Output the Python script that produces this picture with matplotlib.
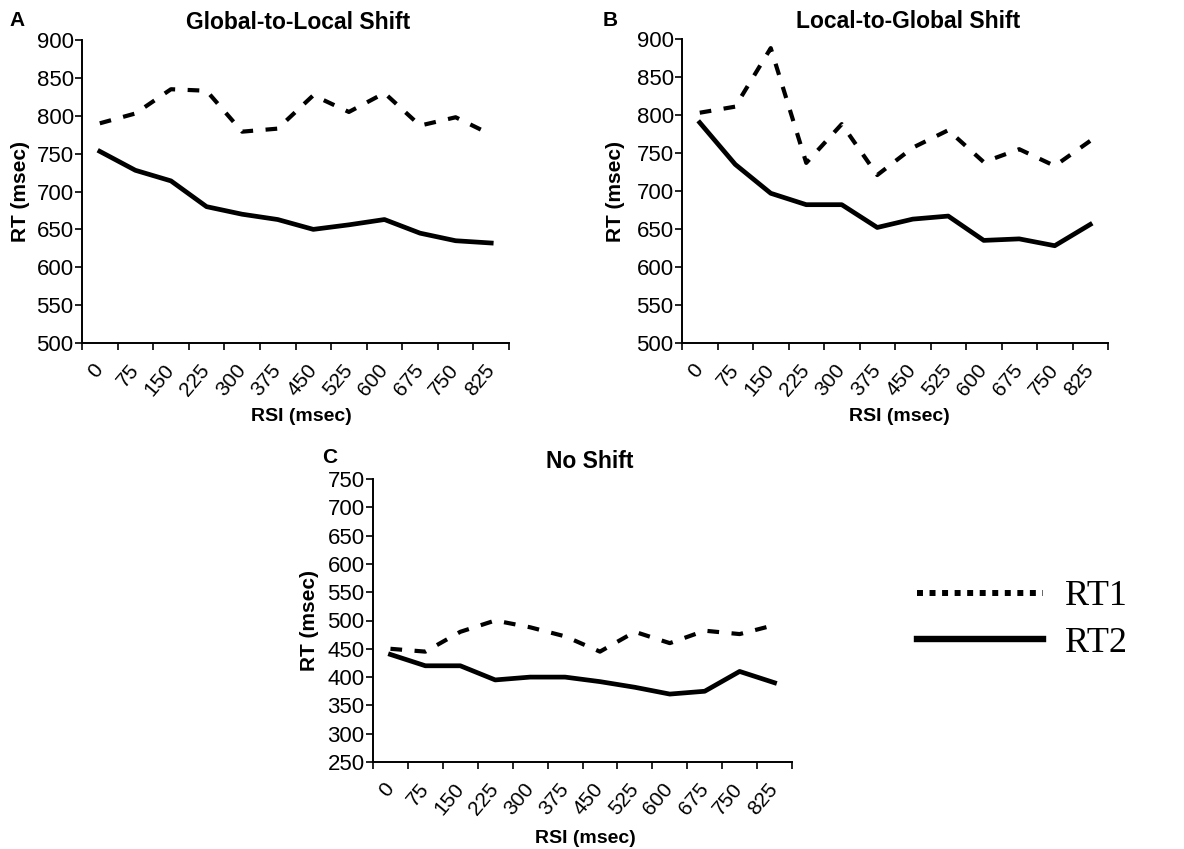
import matplotlib
matplotlib.use('Agg')
import matplotlib.pyplot as plt
from matplotlib.lines import Line2D
import numpy as np

plt.rcParams['font.family'] = ['Liberation Sans', 'DejaVu Sans']

rsi_labels = ['0', '75', '150', '225', '300', '375', '450', '525', '600', '675', '750', '825']

g2l_rt1 = [790, 803, 835, 833, 779, 783, 827, 805, 830, 787, 798, 775]
g2l_rt2 = [753, 728, 714, 680, 670, 663, 650, 656, 663, 645, 635, 632]

l2g_rt1 = [803, 811, 888, 737, 788, 721, 757, 780, 738, 755, 733, 766]
l2g_rt2 = [790, 735, 697, 682, 682, 652, 663, 667, 635, 637, 628, 656]

ns_rt1 = [450, 445, 480, 500, 488, 472, 445, 480, 460, 482, 476, 492]
ns_rt2 = [440, 420, 420, 395, 400, 400, 392, 382, 370, 375, 410, 390]

W, H = 1184, 849
fig = plt.figure(figsize=(W / 100, H / 100), dpi=100)


def px_axes(left, top, right, bottom):
    return fig.add_axes([left / W, 1 - bottom / H, (right - left) / W, (bottom - top) / H])


def draw_panel(ax, rt1, rt2, title, ylim, title_x, xlab_pos, ylab_pos):
    x = np.arange(len(rsi_labels)) + 0.5
    ax.plot(x, rt1, color='black', lw=3.0, linestyle=(0, (2.8, 3)))
    ax.plot(x, rt2, color='black', lw=3.4)
    ax.set_xlim(0, len(rsi_labels))
    ax.set_ylim(*ylim)
    ax.set_yticks(np.arange(ylim[0], ylim[1] + 1, 50))
    ax.set_xticks(np.arange(len(rsi_labels) + 1))
    ax.set_xticklabels([])
    ax.set_xticks(x, minor=True)
    ax.set_xticklabels(rsi_labels, minor=True, rotation=50, ha='right', va='center',
                       rotation_mode='anchor', fontsize=15)
    ax.tick_params(axis='x', which='minor', length=0, pad=17)
    ax.tick_params(axis='x', which='major', length=5, width=1.2, direction='out')
    ax.tick_params(axis='y', length=5, width=1.2, labelsize=16, pad=1)
    for s in ['top', 'right']:
        ax.spines[s].set_visible(False)
    for s in ['left', 'bottom']:
        ax.spines[s].set_linewidth(1.4)
    ax.set_title(title, fontsize=16.5, fontweight='bold', pad=8, x=title_x)
    ax.set_ylabel('RT (msec)', fontsize=15, fontweight='bold')
    ax.set_xlabel('RSI (msec)', fontsize=14, fontweight='bold')
    ax.xaxis.set_label_coords(*xlab_pos)
    ax.yaxis.set_label_coords(*ylab_pos)


axA = px_axes(82, 40, 509, 343)
draw_panel(axA, g2l_rt1, g2l_rt2, 'Global-to-Local Shift', (500, 900),
           0.507, (0.513, -0.214), (-0.122, 0.5))
axB = px_axes(682, 39, 1108, 343)
draw_panel(axB, l2g_rt1, l2g_rt2, 'Local-to-Global Shift', (500, 900),
           0.53, (0.51, -0.214), (-0.134, 0.5))
axC = px_axes(373, 479, 792, 762)
draw_panel(axC, ns_rt1, ns_rt2, 'No Shift', (250, 750),
           0.518, (0.506, -0.24), (-0.129, 0.5))

fig.text(9 / W, 1 - 21 / H, 'A', fontsize=15, fontweight='bold', va='center')
fig.text(603 / W, 1 - 21 / H, 'B', fontsize=15, fontweight='bold', va='center')
fig.text(322 / W, 1 - 457 / H, 'C', fontsize=15, fontweight='bold', va='center')

handles = [Line2D([], [], color='black', lw=4.3, linestyle=(0, (1, 1.1))),
           Line2D([], [], color='black', lw=4.6)]
fig.legend(handles, ['RT1', 'RT2'], loc='center left',
           bbox_to_anchor=(917 / W, 1 - 620 / H), frameon=False,
           prop={'family': 'Liberation Serif', 'size': 26},
           handlelength=3.5, handletextpad=0.6, labelspacing=0.37,
           borderpad=0, borderaxespad=0)

fig.savefig('out.png', dpi=100)
